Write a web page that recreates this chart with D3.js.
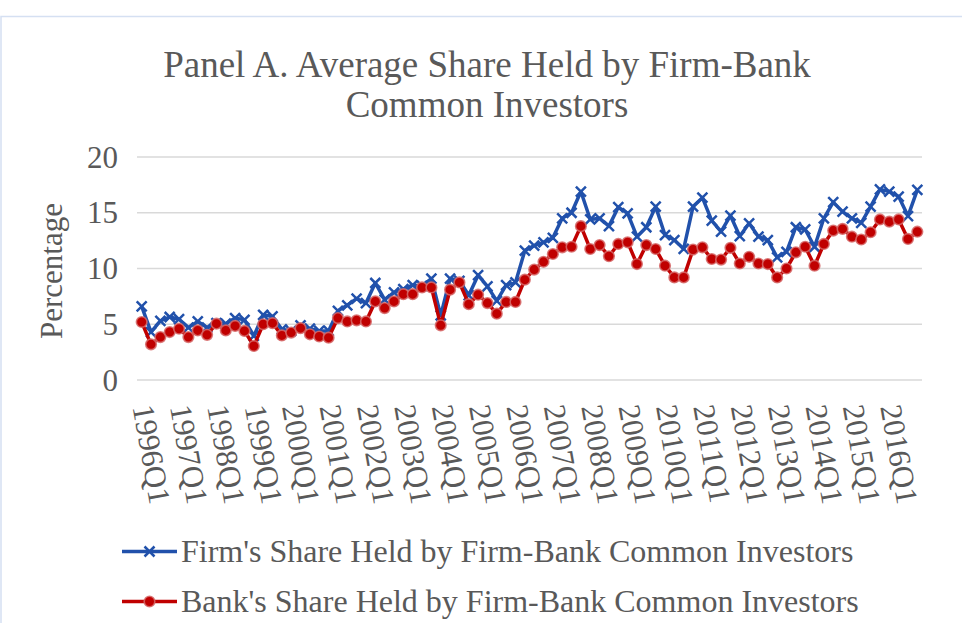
<!DOCTYPE html>
<html>
<head>
<meta charset="utf-8">
<script src="https://cdn.jsdelivr.net/npm/d3@7"></script>
<style>
  html, body { margin: 0; padding: 0; background: #fff; }
  svg { display: block; font-family: "Liberation Serif", "Times New Roman", serif; }
</style>
</head>
<body>
<div id="chart"></div>
<script>
// categories: one per quarter, 1996Q1 .. 2016Q4
const years = d3.range(1996, 2017)
const quarters = years.flatMap(y => [1, 2, 3, 4].map(q => `${y}Q${q}`))

const yTicks = [0, 5, 10, 15, 20]

// Firm's share held by firm-bank common investors (%)
const firmShare = [
  6.6, 4.3, 5.3, 5.65, 5.45, 4.7, 5.25, 4.7, 5.1, 5.05, 5.55, 5.4,
  3.95, 5.85, 5.7, 4.55, 4.4, 4.9, 4.6, 4.4, 4.4, 6.2, 6.7, 7.3,
  6.9, 8.7, 7.2, 7.85, 8.15, 8.5, 8.45, 9.1, 5.8, 9.1, 8.9, 7.6,
  9.4, 8.4, 7.1, 8.5, 8.75, 11.6, 12.05, 12.35, 12.75, 14.5, 15.0, 16.9,
  14.4, 14.5, 13.8, 15.5, 14.95, 12.85, 13.7, 15.55, 13.0, 12.55, 11.75, 15.55,
  16.35, 14.3, 13.3, 14.75, 12.9, 14.05, 12.85, 12.55, 11.0, 11.5, 13.7, 13.5,
  11.95, 14.5, 15.95, 15.1, 14.5, 14.1, 15.55, 17.1, 16.9, 16.45, 14.7, 17.05
]

// Bank's share held by firm-bank common investors (%)
const bankShare = [
  5.2, 3.2, 3.85, 4.3, 4.6, 3.85, 4.45, 4.05, 5.05, 4.45, 4.85, 4.4,
  3.05, 5.0, 5.1, 4.0, 4.25, 4.65, 4.1, 3.9, 3.8, 5.55, 5.25, 5.35,
  5.25, 7.05, 6.45, 7.05, 7.7, 7.7, 8.3, 8.3, 4.9, 8.1, 8.75, 6.8,
  7.65, 6.9, 5.95, 7.0, 7.0, 9.0, 9.9, 10.6, 11.3, 11.9, 11.95, 13.8,
  11.75, 12.1, 11.1, 12.2, 12.35, 10.4, 12.1, 11.75, 10.25, 9.2, 9.2, 11.7,
  11.9, 10.85, 10.8, 11.85, 10.45, 11.05, 10.45, 10.4, 9.2, 10.0, 11.45, 11.95,
  10.25, 12.2, 13.4, 13.55, 12.85, 12.6, 13.25, 14.4, 14.2, 14.4, 12.65, 13.3
]

const seriesNames = [
  "Firm's Share Held by Firm-Bank Common Investors",
  "Bank's Share Held by Firm-Bank Common Investors"
]

const w = 962, h = 623
const blue = '#2151ab', red = '#c00000', textCol = '#595959'
const serif = '"Liberation Serif", "Times New Roman", serif'

const svg = d3.select('#chart').append('svg')
  .attr('width', w)
  .attr('height', h)

// chart area border (only top + left edges visible)
svg.append('path')
  .attr('d', `M1,${h} V16.5 H${w}`)
  .attr('fill', 'none')
  .attr('stroke', '#d5e0f2')
  .attr('stroke-width', 1.5)

// title
const title = svg.append('text')
  .attr('text-anchor', 'middle')
  .attr('fill', textCol)
  .style('font-size', '37px')
title.append('tspan').attr('x', 487).attr('y', 77).text('Panel A. Average Share Held by Firm-Bank')
title.append('tspan').attr('x', 487).attr('y', 117).text('Common Investors')

// scales
const x = d3.scaleBand().domain(quarters).range([137, 922])
const cx = q => x(q) + x.bandwidth() / 2
const y = d3.scaleLinear().domain([0, 20]).range([380, 157])

// gridlines
svg.append('g')
  .selectAll('line')
  .data(yTicks)
  .join('line')
  .attr('x1', 137).attr('x2', 922)
  .attr('y1', d => y(d)).attr('y2', d => y(d))
  .attr('stroke', '#d9d9d9')
  .attr('stroke-width', 1.5)

// y axis
const yAxis = svg.append('g')
  .attr('transform', 'translate(118,0)')
  .call(d3.axisLeft(y).tickValues(yTicks).tickSize(0).tickPadding(0))
  .attr('font-family', serif)
yAxis.select('.domain').remove()
yAxis.selectAll('text')
  .attr('fill', textCol)
  .style('font-size', '31px')
  .attr('dy', '0.33em')

svg.append('text')
  .attr('transform', 'translate(62,271) rotate(-90)')
  .attr('text-anchor', 'middle')
  .attr('fill', textCol)
  .style('font-size', '31px')
  .text('Percentage')

// x axis, labelled every fourth quarter
const xAxis = svg.append('g')
  .attr('transform', 'translate(0,380)')
  .call(d3.axisBottom(x).tickValues(quarters.filter((q, i) => i % 4 == 0)).tickSize(0))
  .attr('font-family', serif)
xAxis.select('.domain').remove()
xAxis.selectAll('.tick text')
  .attr('fill', textCol)
  .style('font-size', '31px')
  .attr('text-anchor', 'start')
  .attr('x', 0).attr('y', 0)
  .attr('dy', '0.33em')
  .attr('transform', 'translate(1,25) rotate(80)')

// series
const line = d3.line().x((d, i) => cx(quarters[i])).y(d => y(d))

const drawCross = (g, s) => g.append('path')
  .attr('d', `M${-s},${-s}L${s},${s}M${-s},${s}L${s},${-s}`)
  .attr('stroke', blue)
  .attr('stroke-width', 2.5)
  .attr('fill', 'none')

const drawDot = (g, r) => g.append('circle')
  .attr('r', r)
  .attr('fill', red)
  .attr('stroke', '#d66a6a')
  .attr('stroke-opacity', 0.85)
  .attr('stroke-width', 1.6)

// firm
svg.append('path')
  .datum(firmShare)
  .attr('d', line)
  .attr('fill', 'none')
  .attr('stroke', blue)
  .attr('stroke-width', 3.5)
  .attr('stroke-linejoin', 'round')
svg.append('g')
  .selectAll('g')
  .data(firmShare)
  .join('g')
  .attr('transform', (d, i) => `translate(${cx(quarters[i])},${y(d)})`)
  .each(function() { drawCross(d3.select(this), 5) })

// bank
svg.append('path')
  .datum(bankShare)
  .attr('d', line)
  .attr('fill', 'none')
  .attr('stroke', red)
  .attr('stroke-width', 3.5)
  .attr('stroke-linejoin', 'round')
svg.append('g')
  .selectAll('g')
  .data(bankShare)
  .join('g')
  .attr('transform', (d, i) => `translate(${cx(quarters[i])},${y(d)})`)
  .each(function() { drawDot(d3.select(this), 5.3) })

// legend
const legend = svg.append('g')
const legendRows = [
  { name: seriesNames[0], color: blue, marker: g => drawCross(g, 5), y: 551.5 },
  { name: seriesNames[1], color: red, marker: g => drawDot(g, 5.3), y: 601.5 }
]
legendRows.forEach(r => {
  const g = legend.append('g').attr('transform', `translate(0,${r.y})`)
  g.append('line')
    .attr('x1', 122).attr('x2', 177)
    .attr('stroke', r.color)
    .attr('stroke-width', 3.5)
  r.marker(g.append('g').attr('transform', 'translate(149.5,0)'))
  g.append('text')
    .attr('x', 181)
    .attr('dy', '0.33em')
    .attr('fill', textCol)
    .style('font-size', '32px')
    .text(r.name)
})
</script>
</body>
</html>
